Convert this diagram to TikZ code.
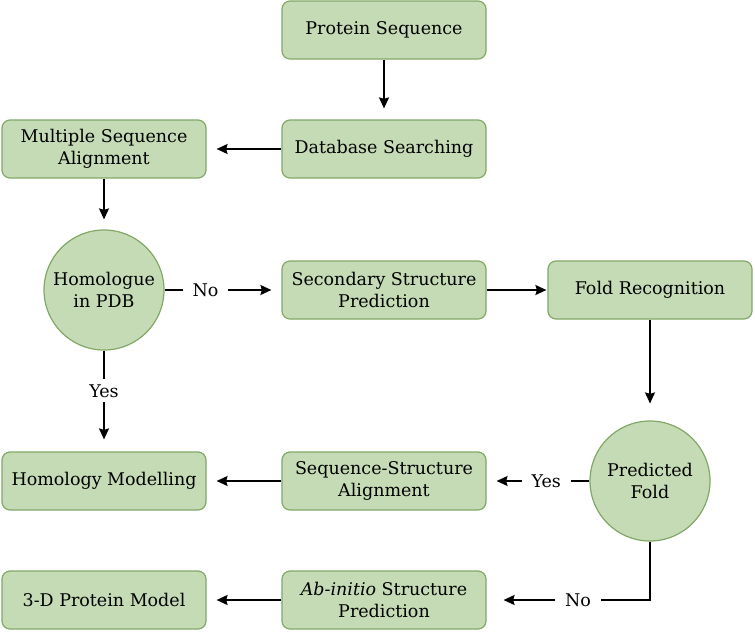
\documentclass[tikz,border=0pt]{standalone}
\usepackage{fontspec}
\setmainfont{DejaVu Serif}
\usetikzlibrary{arrows.meta}
\definecolor{boxfill}{HTML}{C5DBB5}
\definecolor{boxdraw}{HTML}{82A867}
\begin{document}
\begin{tikzpicture}[x=1pt,y=-1pt,
  font=\fontsize{17.5}{21.5}\selectfont,
  stepbox/.style={draw=boxdraw,fill=boxfill,line width=1.2pt,rounded corners=8pt,minimum width=204pt,minimum height=58pt,align=center,inner sep=2pt},
  decision/.style={draw=boxdraw,fill=boxfill,line width=1.2pt,circle,minimum size=120pt,align=center,inner sep=0pt},
  conn/.style={line width=1.8pt,-{Stealth[length=11pt,width=10pt,inset=1.5pt]}},
  lbl/.style={fill=white,inner xsep=10pt,inner ysep=5pt}]
\useasboundingbox (0,0) rectangle (755,632);
\node[stepbox] (ps) at (384,30) {Protein Sequence};
\node[stepbox] (db) at (384,149) {Database Searching};
\node[stepbox] (msa) at (104,149) {Multiple Sequence\\Alignment};
\node[decision] (hom) at (104,290) {Homologue\\in PDB};
\node[stepbox] (ssp) at (384,290) {Secondary Structure\\Prediction};
\node[stepbox] (fr) at (650,290) {Fold Recognition};
\node[decision] (pf) at (650,481) {Predicted\\Fold};
\node[stepbox] (ssa) at (384,481) {Sequence-Structure\\Alignment};
\node[stepbox] (hm) at (104,481) {Homology Modelling};
\node[stepbox] (ab) at (384,600) {\textit{Ab-initio} Structure\\Prediction};
\node[stepbox] (pm) at (104,600) {3-D Protein Model};
\draw[conn,shorten >=11pt] (ps) -- (db);
\draw[conn,shorten >=10pt] (db) -- (msa);
\draw[conn,shorten >=10pt] (msa) -- (hom);
\draw[conn,shorten >=10pt] (hom) -- node[lbl,pos=0.35]{No} (ssp);
\draw[conn,shorten >=12pt] (hom) -- node[lbl,pos=0.4]{Yes} (hm);
\draw[conn,shorten >=1pt] (ssp) -- (fr);
\draw[conn,shorten >=17pt] (fr) -- (pf);
\draw[conn,shorten >=10pt] (pf) -- node[lbl,pos=0.42]{Yes} (ssa);
\draw[conn,shorten >=17pt] (pf) |- node[lbl,pos=0.72]{No} (ab);
\draw[conn,shorten >=10pt] (ssa) -- (hm);
\draw[conn,shorten >=10pt] (ab) -- (pm);
\end{tikzpicture}
\end{document}
